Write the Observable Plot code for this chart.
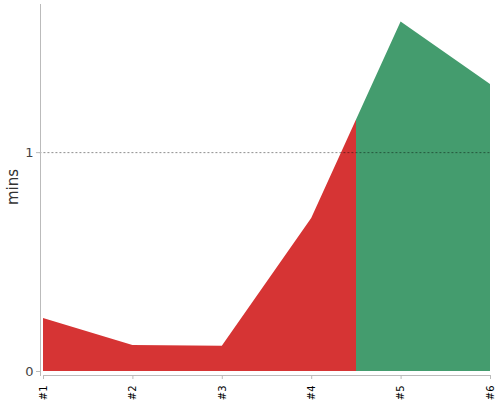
<!DOCTYPE html>
<html>
<head>
<meta charset="utf-8">
<script src="https://cdn.jsdelivr.net/npm/d3@7"></script>
<script src="https://cdn.jsdelivr.net/npm/@observablehq/plot@0.6"></script>
<style>
  html, body { margin: 0; padding: 0; background: #fff; }
  svg { font-family: "DejaVu Sans", sans-serif; }
</style>
</head>
<body>
<div id="chart"></div>
<script>
const categories = ["#1", "#2", "#3", "#4", "#5", "#6"];
const minutes = [0.242, 0.119, 0.115, 0.699, 1.597, 1.311];
const status = ["bad", "bad", "bad", "bad", "good", "good"];
const yTicks = [0, 1];
const colors = { bad: "#d63434", good: "#449c6e" };

const data = categories.map((c, i) => ({ i, label: c, value: minutes[i], status: status[i] }));
const lastBad = status.lastIndexOf("bad");
const splitAt = (lastBad + status.indexOf("good")) / 2;

const W = 500, H = 400;

const gradientMark = (index, scales) => {
  const f = scales.x(splitAt) / W;
  const defs = d3.create("svg:defs");
  const g = defs.append("linearGradient")
    .attr("id", "splitfill")
    .attr("gradientUnits", "userSpaceOnUse")
    .attr("x1", 0).attr("x2", W).attr("y1", 0).attr("y2", 0);
  g.append("stop").attr("offset", f).attr("stop-color", colors.bad);
  g.append("stop").attr("offset", f).attr("stop-color", colors.good);
  return defs.node();
};

const chart = Plot.plot({
  width: W,
  height: H,
  marginLeft: 40,
  marginRight: 10,
  marginTop: 4,
  marginBottom: 25,
  style: { fontFamily: "DejaVu Sans, sans-serif", background: "#fff" },
  x: { type: "linear", domain: [0, categories.length - 1], insetLeft: 3 },
  y: { domain: [0, d3.max(minutes) * 1.05], insetBottom: 4 },
  marks: [
    gradientMark,
    Plot.areaY(data, { x: "i", y: "value", fill: "url(#splitfill)" }),
    Plot.ruleY([1], { x1: -0.04, x2: categories.length - 1, stroke: "#000", strokeOpacity: 0.45, strokeDasharray: "2,2", strokeWidth: 1 }),
    Plot.frame({ anchor: "left", stroke: "#bbb" }),
    Plot.ruleY([0], { x1: 0, x2: categories.length - 1, dy: 4, stroke: "#bbb" }),
    Plot.axisY(yTicks, {
      tickSize: 4, tickPadding: 3, fontSize: 13, color: "#444", stroke: "#bbb",
      tickFormat: d3.format("d"), label: null
    }),
    Plot.axisX(d3.range(categories.length), {
      tickFormat: (d) => categories[d], tickRotate: -90, tickSize: 4, tickPadding: 6,
      fontSize: 10, color: "#000", stroke: "#bbb", label: null
    }),
    Plot.text(["mins"], { frameAnchor: "left", rotate: -90, dx: -27, dy: -3, textAnchor: "middle", fontSize: 15, fill: "#333" })
  ]
});
document.getElementById("chart").appendChild(chart);
</script>
</body>
</html>
